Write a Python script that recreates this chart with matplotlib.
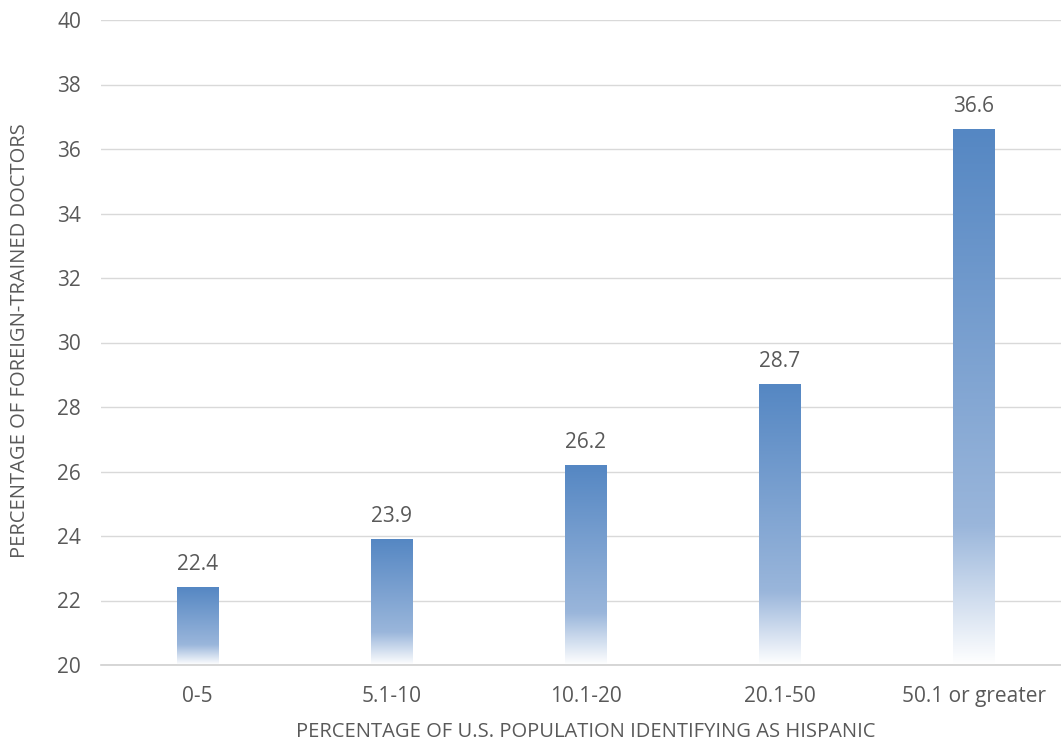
import numpy as np
import matplotlib.pyplot as plt
from matplotlib.colors import LinearSegmentedColormap

categories = ["0-5", "5.1-10", "10.1-20", "20.1-50", "50.1 or greater"]
values = [22.4, 23.9, 26.2, 28.7, 36.6]
yticks = [20, 22, 24, 26, 28, 30, 32, 34, 36, 38, 40]

plt.rcParams['font.family'] = ['Open Sans', 'DejaVu Sans']
grey = "#595959"

fig = plt.figure(figsize=(10.61, 7.49), dpi=100)
ax = fig.add_axes([100.5 / 1061, 1 - 665 / 749, 970 / 1061, 645 / 749])

# vertical gradient: white at the base, light blue, then the darker blue at the top
cmap = LinearSegmentedColormap.from_list(
    "bar", [(0.0, "#ffffff"), (0.26, "#9ab6db"), (1.0, "#5587c3")])
grad = np.linspace(0, 1, 256).reshape(-1, 1)

width = 0.216
x = np.arange(len(categories))
for xi, v in zip(x, values):
    ax.imshow(grad, extent=[xi - width / 2, xi + width / 2, 20, v], origin="lower",
              cmap=cmap, aspect="auto", zorder=2, interpolation="bilinear")
    ax.text(xi, v + 0.38, f"{v:.1f}", ha="center", va="bottom", fontsize=15, color=grey)

ax.set_xlim(-0.5, len(categories) - 0.5)
ax.set_ylim(20, 40)
ax.set_yticks(yticks)
ax.set_xticks(x)
ax.set_xticklabels(categories)
ax.tick_params(length=0, labelsize=15, colors=grey, pad=15)
ax.tick_params(axis="y", pad=14)
ax.grid(axis="y", color="#d9d9d9", linewidth=1, zorder=0)
ax.set_axisbelow(True)
for s in ["top", "right", "left"]:
    ax.spines[s].set_visible(False)
ax.spines["bottom"].set_color("#d0d0d0")
ax.spines["bottom"].set_linewidth(1.2)

fig.text(586 / 1061, 1 - 732 / 749, "PERCENTAGE OF U.S. POPULATION IDENTIFYING AS HISPANIC",
         ha="center", va="center", fontsize=14.5, color=grey)
fig.text(20 / 1061, 1 - 341 / 749, "PERCENTAGE OF FOREIGN-TRAINED DOCTORS",
         ha="center", va="center", rotation=90, fontsize=14.5, color=grey)

fig.savefig("out.png", dpi=100)
